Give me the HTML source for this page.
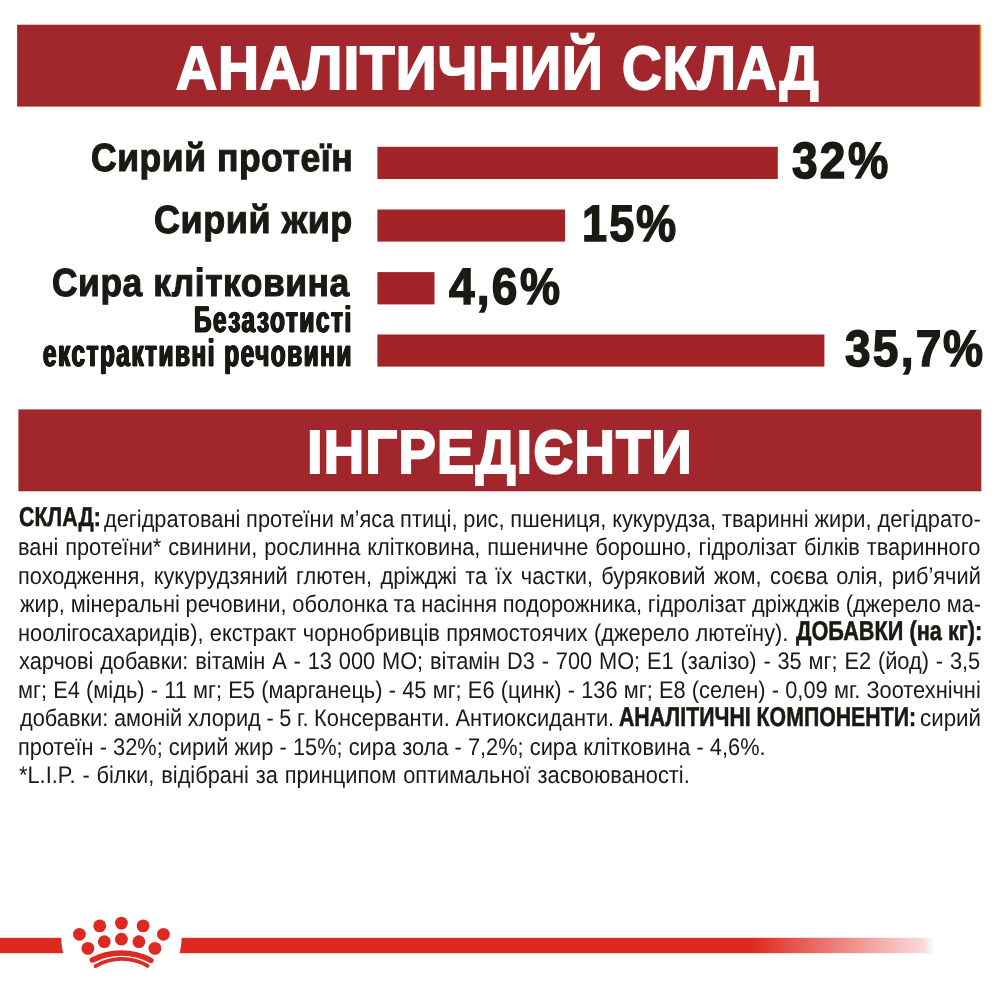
<!DOCTYPE html>
<html lang="uk">
<head>
<meta charset="utf-8">
<title>Аналітичний склад</title>
<style>
html,body{margin:0;padding:0;background:#fff;}
body{width:1000px;height:1000px;position:relative;overflow:hidden;font-family:"Liberation Sans",sans-serif;}
.r{position:absolute;background:#A2272D;}
.bar{position:absolute;background:#A22428;left:377.5px;height:32.2px;}
.t{position:absolute;white-space:nowrap;line-height:1;transform-origin:0 0;font-family:"Liberation Sans",sans-serif;font-weight:bold;margin:0;padding:0;text-rendering:geometricPrecision;}
.b{font-size:24.0px;color:#1B1914;font-weight:normal;-webkit-text-stroke:0px #fff;}
.bb{font-size:27.2px;color:#1B1914;font-weight:bold;-webkit-text-stroke:0.55px #1B1914;}
#page{position:absolute;left:0;top:0;width:1000px;height:1000px;overflow:hidden;will-change:transform;}
#t1a{left:175.88px;top:38.09px;font-size:61.00px;transform:scaleX(0.9314);color:#fff;-webkit-text-stroke:1.9px #fff;letter-spacing:1.0px}
#t1b{left:621.72px;top:38.09px;font-size:61.00px;transform:scaleX(0.9026);color:#fff;-webkit-text-stroke:1.9px #fff;letter-spacing:1.0px}
#t2{left:307.00px;top:422.10px;font-size:61.00px;transform:scaleX(0.9254);color:#fff;-webkit-text-stroke:1.9px #fff;letter-spacing:1.0px}
#l1{left:91.11px;top:138.82px;font-size:39.20px;transform:scaleX(0.9058);color:#1B1914;-webkit-text-stroke:1.1px #1B1914;letter-spacing:0.6px}
#l2{left:154.00px;top:201.02px;font-size:39.20px;transform:scaleX(0.9182);color:#1B1914;-webkit-text-stroke:1.1px #1B1914;letter-spacing:0.6px}
#l3{left:52.20px;top:263.87px;font-size:39.20px;transform:scaleX(0.9029);color:#1B1914;-webkit-text-stroke:1.1px #1B1914;letter-spacing:0.6px}
#l4a{left:194.09px;top:301.95px;font-size:36.75px;transform:scaleX(0.6619);color:#1B1914;-webkit-text-stroke:0.8px #1B1914;text-shadow:-0.6px 0 0 #1B1914,0.6px 0 0 #1B1914,-1.2px 0 0 #1B1914,1.2px 0 0 #1B1914;letter-spacing:2.4px}
#l4b{left:43.06px;top:334.91px;font-size:38.00px;transform:scaleX(0.6399);color:#1B1914;-webkit-text-stroke:0.8px #1B1914;text-shadow:-0.6px 0 0 #1B1914,0.6px 0 0 #1B1914,-1.2px 0 0 #1B1914,1.2px 0 0 #1B1914;letter-spacing:2.4px}
#v1{left:791.58px;top:134.98px;font-size:51.10px;transform:scaleX(0.9012);color:#1B1914;-webkit-text-stroke:1.5px #1B1914;letter-spacing:2.5px}
#v1p{left:847.99px;top:134.98px;font-size:51.10px;transform:scaleX(0.8881);color:#1B1914;-webkit-text-stroke:1.5px #1B1914;letter-spacing:2.5px}
#v2{left:582.02px;top:198.03px;font-size:51.10px;transform:scaleX(0.8818);color:#1B1914;-webkit-text-stroke:1.5px #1B1914;letter-spacing:2.5px}
#v2p{left:636.25px;top:198.03px;font-size:51.10px;transform:scaleX(0.8837);color:#1B1914;-webkit-text-stroke:1.5px #1B1914;letter-spacing:2.5px}
#v3{left:449.20px;top:261.13px;font-size:51.10px;transform:scaleX(0.9000);color:#1B1914;-webkit-text-stroke:1.5px #1B1914;letter-spacing:2.5px}
#v3p{left:520.42px;top:261.13px;font-size:51.10px;transform:scaleX(0.8815);color:#1B1914;-webkit-text-stroke:1.5px #1B1914;letter-spacing:2.5px}
#v4{left:844.59px;top:322.93px;font-size:51.10px;transform:scaleX(0.9010);color:#1B1914;-webkit-text-stroke:1.5px #1B1914;letter-spacing:2.5px}
#v4p{left:943.22px;top:322.93px;font-size:51.10px;transform:scaleX(0.8814);color:#1B1914;-webkit-text-stroke:1.5px #1B1914;letter-spacing:2.5px}
#b0_0{left:19.00px;top:502.52px;transform:scaleX(0.7831)}
#b0_1{left:104.07px;top:508.22px;word-spacing:-0.24px;transform:scaleX(0.9080)}
#b1_0{left:18.24px;top:535.77px;word-spacing:0.88px;transform:scaleX(0.9080)}
#b2_0{left:18.42px;top:565.32px;word-spacing:2.57px;transform:scaleX(0.9080)}
#b3_0{left:19.65px;top:592.87px;word-spacing:-0.33px;transform:scaleX(0.9080)}
#b4_0{left:18.47px;top:622.42px;word-spacing:0.28px;transform:scaleX(0.9080)}
#b4_1{left:795.71px;top:616.72px;transform:scaleX(0.7989)}
#b5_0{left:19.45px;top:649.97px;word-spacing:0.87px;transform:scaleX(0.9080)}
#b6_0{left:18.47px;top:678.52px;word-spacing:0.19px;transform:scaleX(0.9080)}
#b7_0{left:19.54px;top:707.07px;word-spacing:-0.46px;transform:scaleX(0.9080)}
#b7_1{left:618.60px;top:703.37px;transform:scaleX(0.7826)}
#b7_2{left:919.67px;top:707.07px;transform:scaleX(0.9311)}
#b8_0{left:18.42px;top:735.62px;word-spacing:0.09px;transform:scaleX(0.9080)}
#b9_0{left:19.20px;top:764.17px;word-spacing:0.90px;transform:scaleX(0.9080)}
</style>
</head>
<body>
<div id="page">
<svg style="position:absolute;left:0;top:0" width="1000" height="500" viewBox="0 0 1000 500">
<rect x="17.1" y="24.7" width="962.8" height="81.9" fill="#A2272D"/>
<rect x="979.9" y="24.7" width="1.1" height="81.9" fill="#E6A136"/>
<rect x="981" y="24.7" width="0.9" height="81.9" fill="#F3CB8C"/>
<rect x="18.4" y="409.4" width="962.9" height="81.9" fill="#A2272D"/>
<rect x="377.4" y="146.8" width="400.4" height="32.2" fill="#A22428"/>
<rect x="377.4" y="209.5" width="187.7" height="32.1" fill="#A22428"/>
<rect x="377.4" y="272.1" width="57.1" height="32.3" fill="#A22428"/>
<rect x="377.4" y="334.5" width="447" height="32.1" fill="#A22428"/>
</svg>
<div class="t" id="t1a">АНАЛІТИЧНИЙ</div>
<div class="t" id="t1b">СКЛАД</div>
<div class="t" id="t2">ІНГРЕДІЄНТИ</div>
<div class="t" id="l1">Сирий протеїн</div>
<div class="t" id="l2">Сирий жир</div>
<div class="t" id="l3">Сира клітковина</div>
<div class="t" id="l4a">Безазотисті</div>
<div class="t" id="l4b">екстрактивні речовини</div>
<div class="t" id="v1">32</div>
<div class="t" id="v1p">%</div>
<div class="t" id="v2">15</div>
<div class="t" id="v2p">%</div>
<div class="t" id="v3">4,6</div>
<div class="t" id="v3p">%</div>
<div class="t" id="v4">35,7</div>
<div class="t" id="v4p">%</div>
<div class="t bb" id="b0_0">СКЛАД:</div>
<div class="t b" id="b0_1">дегідратовані протеїни м’яса птиці, рис, пшениця, кукурудза, тваринні жири, дегідрато-</div>
<div class="t b" id="b1_0">вані протеїни* свинини, рослинна клітковина, пшеничне борошно, гідролізат білків тваринного</div>
<div class="t b" id="b2_0">походження, кукурудзяний глютен, дріжджі та їх частки, буряковий жом, соєва олія, риб’ячий</div>
<div class="t b" id="b3_0">жир, мінеральні речовини, оболонка та насіння подорожника, гідролізат дріжджів (джерело ма-</div>
<div class="t b" id="b4_0">ноолігосахаридів), екстракт чорнобривців прямостоячих (джерело лютеїну).</div>
<div class="t bb" id="b4_1">ДОБАВКИ (на кг):</div>
<div class="t b" id="b5_0">харчові добавки: вітамін А - 13 000 МО; вітамін D3 - 700 МО; Е1 (залізо) - 35 мг; Е2 (йод) - 3,5</div>
<div class="t b" id="b6_0">мг; Е4 (мідь) - 11 мг; Е5 (марганець) - 45 мг; Е6 (цинк) - 136 мг; Е8 (селен) - 0,09 мг. Зоотехнічні</div>
<div class="t b" id="b7_0">добавки: амоній хлорид - 5 г. Консерванти. Антиоксиданти.</div>
<div class="t bb" id="b7_1">АНАЛІТИЧНІ КОМПОНЕНТИ:</div>
<div class="t b" id="b7_2">сирий</div>
<div class="t b" id="b8_0">протеїн - 32%; сирий жир - 15%; сира зола - 7,2%; сира клітковина - 4,6%.</div>
<div class="t b" id="b9_0">*L.I.P. - білки, відібрані за принципом оптимальної засвоюваності.</div>
<svg style="position:absolute;left:0;top:880px" width="1000" height="120" viewBox="0 880 1000 120">
<defs><linearGradient id="fade" gradientUnits="userSpaceOnUse" x1="0" x2="937" y1="0" y2="0"><stop offset="0" stop-color="#DD291F"/><stop offset="0.8015" stop-color="#DD291F"/><stop offset="0.985" stop-color="#DD291F" stop-opacity="0.17"/><stop offset="0.9968" stop-color="#DD291F" stop-opacity="0"/></linearGradient></defs>
<rect x="0" y="937.8" width="937" height="15.4" fill="url(#fade)"/>
<circle cx="121.4" cy="937.4" r="60.2" fill="#fff"/>
<g fill="#DD291F">
<circle cx="99.7" cy="925.9" r="6.4"/><circle cx="121.4" cy="923.1" r="6.4"/><circle cx="143.1" cy="925.9" r="6.4"/>
<circle cx="79.4" cy="934.3" r="6.4"/><circle cx="163.4" cy="934.3" r="6.4"/>
<circle cx="104.3" cy="941.7" r="6.4"/><circle cx="121.4" cy="939.2" r="6.4"/><circle cx="138.9" cy="941.7" r="6.4"/>
<circle cx="87.9" cy="948.4" r="6.4"/><circle cx="154.9" cy="948.4" r="6.4"/>
</g>
<path d="M92.3 960 A63.4 63.4 0 0 1 150.8 960.4" fill="none" stroke="#DD291F" stroke-width="5.5" stroke-linecap="round"/>
<path d="M95.6 966.2 A51.2 51.2 0 0 1 147.6 965.9" fill="none" stroke="#DD291F" stroke-width="3.7" stroke-linecap="round"/>
</svg>
</div>
</body>
</html>
